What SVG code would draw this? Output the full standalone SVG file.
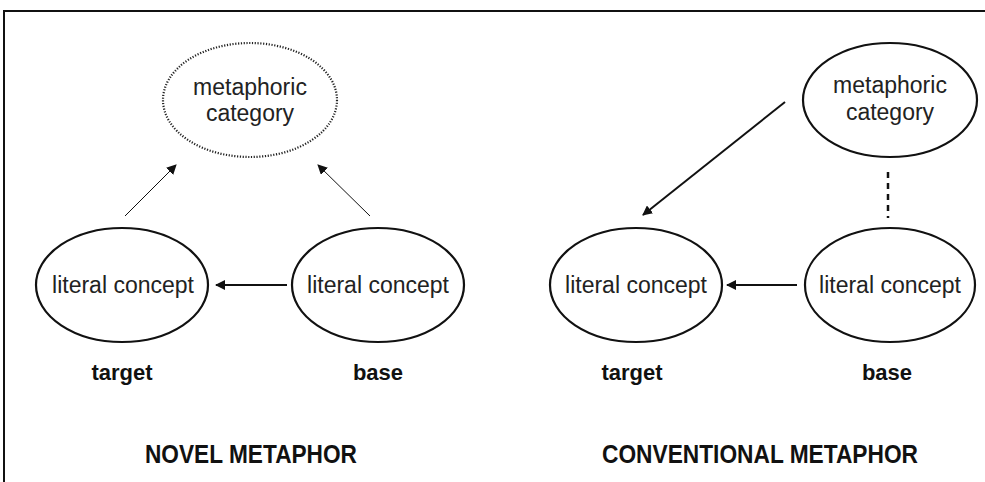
<svg xmlns="http://www.w3.org/2000/svg" width="985" height="482" viewBox="0 0 985 482">
<defs>
<style>
.node{fill:#fff;stroke:#111;stroke-width:2.2}
.dotted{fill:#fff;stroke:#222;stroke-width:2.2;stroke-dasharray:1.2 1.6}
.lbl{font-family:"Liberation Sans",Arial,sans-serif;font-size:23px;fill:#222;text-anchor:middle}
.role{font-family:"Liberation Sans",Arial,sans-serif;font-size:22px;font-weight:bold;fill:#111;text-anchor:middle}
.title{font-family:"Liberation Sans",Arial,sans-serif;font-size:25px;font-weight:bold;fill:#111;text-anchor:middle}
.conn{stroke:#111;fill:none}
</style>
<marker id="ah" viewBox="0 0 10 10" refX="9" refY="5" markerWidth="5" markerHeight="5" orient="auto" markerUnits="strokeWidth">
<path d="M0,0 L10,5 L0,10 z" fill="#111"/>
</marker>
<marker id="ahs" viewBox="0 0 10 10" refX="9" refY="5" markerWidth="10" markerHeight="10" orient="auto" markerUnits="strokeWidth">
<path d="M0,0 L10,5 L0,10 z" fill="#111"/>
</marker>
</defs>
<rect width="985" height="482" fill="#fff"/>
<path d="M4,482 V11 H985" fill="none" stroke="#111" stroke-width="2"/>

<g id="connectors">
<line class="conn" x1="125" y1="216" x2="176" y2="165" stroke-width="1" marker-end="url(#ahs)"/>
<line class="conn" x1="370" y1="216" x2="318" y2="165" stroke-width="1" marker-end="url(#ahs)"/>
<line class="conn" x1="287" y1="285" x2="216" y2="285" stroke-width="2" marker-end="url(#ah)"/>
<line class="conn" x1="785" y1="102" x2="643" y2="215" stroke-width="2" marker-end="url(#ah)"/>
<line class="conn" x1="888" y1="172" x2="888" y2="218" stroke-width="2.5" stroke-dasharray="6 5"/>
<line class="conn" x1="797" y1="285" x2="727" y2="285" stroke-width="2" marker-end="url(#ah)"/>
</g>

<g id="novel-metaphoric">
<ellipse class="dotted" cx="250" cy="100" rx="87" ry="57"/>
<text class="lbl" x="250" y="95">metaphoric</text>
<text class="lbl" x="250" y="121">category</text>
</g>
<g id="novel-target">
<ellipse class="node" cx="122" cy="285" rx="86" ry="57"/>
<text class="lbl" x="123" y="293">literal concept</text>
</g>
<g id="novel-base">
<ellipse class="node" cx="378" cy="285" rx="86" ry="57"/>
<text class="lbl" x="378" y="293">literal concept</text>
</g>
<g id="conv-metaphoric">
<ellipse class="node" cx="890" cy="100" rx="87" ry="57"/>
<text class="lbl" x="890" y="93">metaphoric</text>
<text class="lbl" x="890" y="120">category</text>
</g>
<g id="conv-target">
<ellipse class="node" cx="636" cy="285" rx="86" ry="57"/>
<text class="lbl" x="636" y="293">literal concept</text>
</g>
<g id="conv-base">
<ellipse class="node" cx="890" cy="285" rx="85" ry="57"/>
<text class="lbl" x="890" y="293">literal concept</text>
</g>

<g id="labels">
<text class="role" x="122" y="380">target</text>
<text class="role" x="378" y="380">base</text>
<text class="role" x="632" y="380">target</text>
<text class="role" x="887" y="380">base</text>
<text class="title" x="251" y="463" textLength="212" lengthAdjust="spacingAndGlyphs">NOVEL METAPHOR</text>
<text class="title" x="760" y="463" textLength="316" lengthAdjust="spacingAndGlyphs">CONVENTIONAL METAPHOR</text>
</g>
</svg>
